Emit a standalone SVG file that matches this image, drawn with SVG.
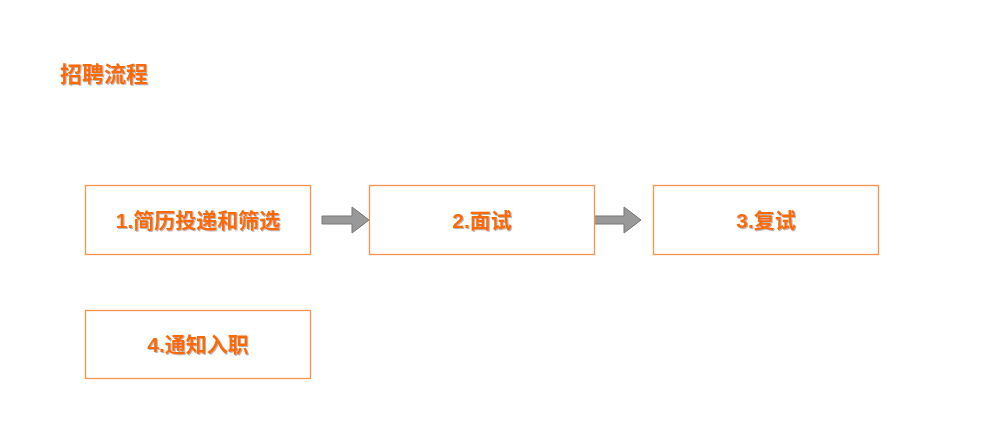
<svg xmlns="http://www.w3.org/2000/svg" width="993" height="428" viewBox="0 0 993 428">
<defs><filter id="sh" x="-10%" y="-10%" width="120%" height="130%"><feDropShadow dx="1" dy="1" stdDeviation="0.6" flood-color="#888" flood-opacity="0.6"/></filter></defs>
<style>
text{font-family:"Liberation Sans","Noto Sans CJK SC",sans-serif;font-weight:bold;fill:#FF6A00;filter:url(#sh)}
.box{fill:#fff;stroke:#F7934A;stroke-width:1.3}
.lbl{font-size:21px;text-anchor:middle}
.arr{fill:#999;stroke:#777;stroke-width:1}
</style>
<rect width="993" height="428" fill="#fff"/>
<text x="60" y="82" font-size="22">招聘流程</text>
<g id="connectors">
<path class="arr" d="M322,216 H352 V207 L369,220 L352,233 V224 H322 Z"/>
<path class="arr" d="M594,216 H624 V207 L641,220 L624,233 V224 H594 Z"/>
</g>
<g id="n1"><rect class="box" x="85.5" y="185.5" width="225" height="69"/><text class="lbl" x="198" y="228">1.简历投递和筛选</text></g>
<g id="n2"><rect class="box" x="369.5" y="185.5" width="225" height="69"/><text class="lbl" x="482" y="228">2.面试</text></g>
<g id="n3"><rect class="box" x="653.5" y="185.5" width="225" height="69"/><text class="lbl" x="766" y="228">3.复试</text></g>
<g id="n4"><rect class="box" x="85.5" y="310.5" width="225" height="68"/><text class="lbl" x="198" y="352">4.通知入职</text></g>
</svg>
